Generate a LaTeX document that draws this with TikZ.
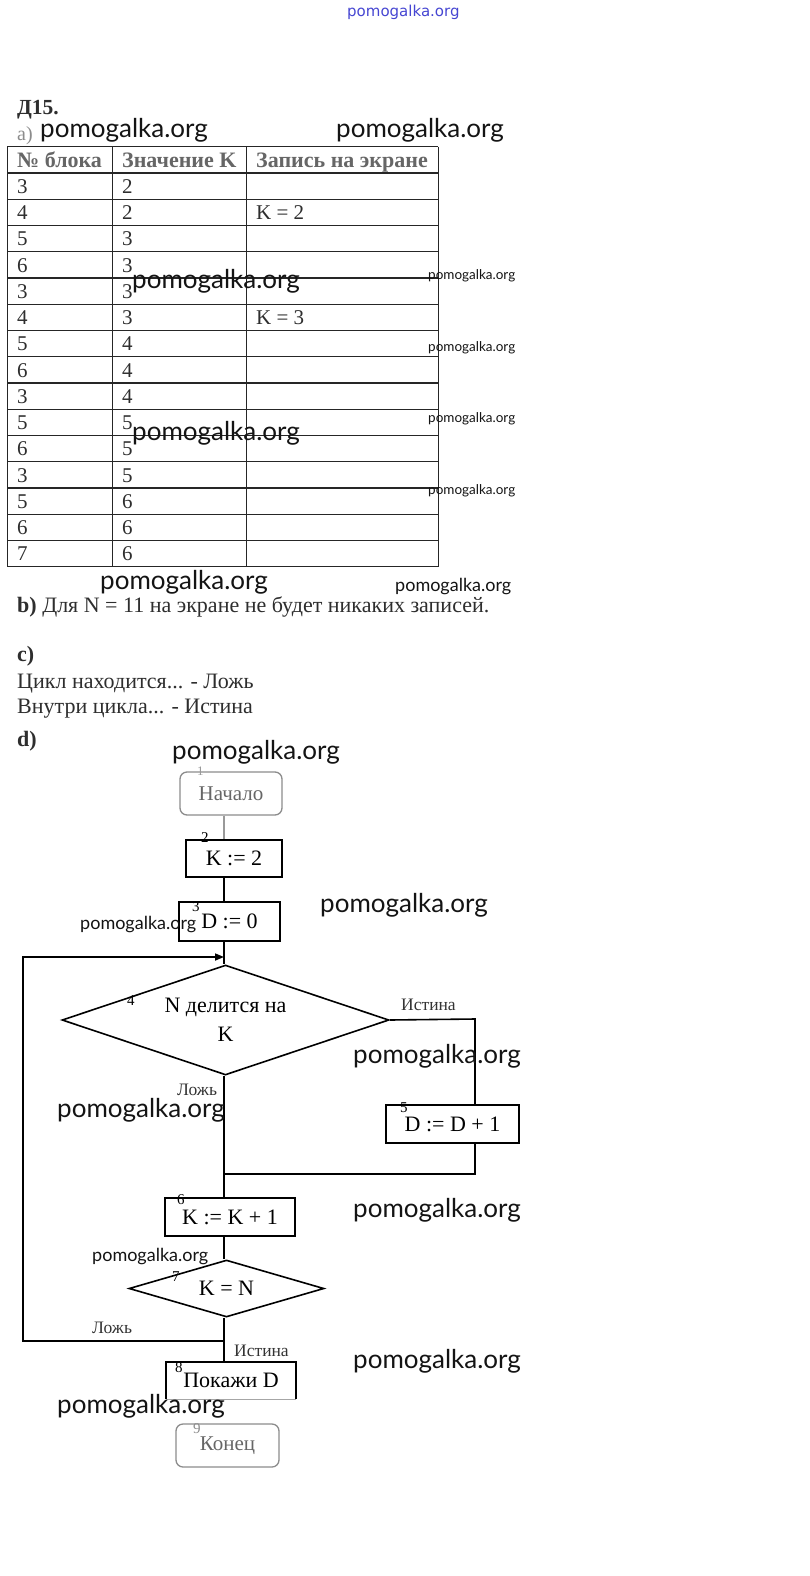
\documentclass[tikz,border=0pt]{standalone}
\usepackage{fontspec}
\setmainfont{Liberation Serif}
\newfontfamily\wmfont{Lato}
\newfontfamily\wmblue{DejaVu Sans}
\usetikzlibrary{shapes.geometric,arrows.meta}
\begin{document}
\begin{tikzpicture}[x=1pt,y=-1pt,
  txt/.style={anchor=base west,inner sep=0,font=\fontsize{22}{26}\selectfont,text=black!82},
  cellt/.style={anchor=base west,inner sep=0,font=\fontsize{21}{25}\selectfont,text=black!82},
  hdr/.style={anchor=base west,inner sep=0,font=\fontsize{22}{26}\selectfont\bfseries,text=black!60},
  grid/.style={line width=1.2pt,black!85},
  wmL/.style={anchor=base west,inner sep=0,font=\wmfont\fontsize{26}{30}\selectfont,text=black!92},
  wmS/.style={anchor=base west,inner sep=0,font=\wmfont\fontsize{13.5}{16}\selectfont,text=black!92},
  wmM/.style={anchor=base west,inner sep=0,font=\wmfont\fontsize{18}{21}\selectfont,text=black!92},
  flow/.style={line width=1.6pt,black},
  box/.style={draw,line width=1.6pt,inner sep=0,font=\fontsize{22}{26}\selectfont},
  term/.style={draw=black!45,line width=1.3pt,rounded corners=7pt,inner sep=0,font=\fontsize{21}{25}\selectfont,text=black!60},
  dia/.style={diamond,draw,line width=1.6pt,inner sep=0,shape aspect=3,font=\fontsize{22}{29}\selectfont,align=center},
  num/.style={anchor=base west,inner sep=0,font=\fontsize{15}{18}\selectfont},
  lab/.style={anchor=base west,inner sep=0,font=\fontsize{17.5}{20}\selectfont,text=black!80}
]
\useasboundingbox[fill=white] (0,0) rectangle (809,1576);

% ---------- header text ----------
\node[txt,font=\fontsize{21.5}{25}\selectfont\bfseries] (title) at (17,115) {Д15.};
\node[txt,text=black!45,font=\fontsize{20}{24}\selectfont] (ta) at (17,140) {а)};

% ---------- table ----------
\foreach \i in {0,...,16} \draw[grid] (7.3,146.7+26.25*\i) -- (438.3,146.7+26.25*\i);
\foreach \x in {7.3,112.7,246.7,438.3} \draw[grid] (\x,146.7) -- (\x,566.7);
\node[hdr] (h1) at (17,167) {№ блока};
\node[hdr] (h2) at (122,167) {Значение K};
\node[hdr] (h3) at (256,167) {Запись на экране};
\foreach \i/\a/\b/\c in {1/3/2/,2/4/2/K = 2,3/5/3/,4/6/3/,5/3/3/,6/4/3/K = 3,7/5/4/,8/6/4/,9/3/4/,10/5/5/,11/6/5/,12/3/5/,13/5/6/,14/6/6/,15/7/6/}{
  \node[cellt] (ra\i) at (17,146.7+26.25*\i+20.5) {\a};
  \node[cellt] (rb\i) at (122,146.7+26.25*\i+20.5) {\b};
  \node[cellt] (rc\i) at (256,146.7+26.25*\i+20.5) {\c};
}

% ---------- b, c, d ----------
\node[txt] (pb) at (17,612) {\textbf{b)} Для N = 11 на экране не будет никаких записей.};
\node[txt,font=\fontsize{22}{26}\selectfont\bfseries] (pc) at (17,661) {c)};
\node[txt] (pc1) at (17,688) {Цикл находится... - Ложь};
\node[txt] (pc2) at (17,713) {Внутри цикла... - Истина};
\node[txt,font=\fontsize{22}{26}\selectfont\bfseries] (pd) at (17,746) {d)};

% ---------- flowchart ----------
\coordinate (ax) at (224,0);
\node[term,minimum width=102pt,minimum height=43pt] (st) at (231,793.5) {Начало};
\node[box,minimum width=96pt,minimum height=37pt] (k2) at (234,858.5) {K := 2};
\node[box,minimum width=101pt,minimum height=39pt] (d0) at (229.5,921.5) {D := 0};
\node[dia,minimum width=327pt,minimum height=110pt] (d4) at (225.5,1020) {N делится на\\K};
\node[box,minimum width=133pt,minimum height=38pt] (b5) at (452.5,1124) {D := D + 1};
\node[box,minimum width=130pt,minimum height=38pt] (k6) at (230,1217) {K := K + 1};
\node[dia,minimum width=195pt,minimum height=57pt] (d7) at (226.5,1288.5) {K = N};
\node[inner sep=0,minimum width=130pt,minimum height=37pt,font=\fontsize{22}{26}\selectfont] (p8) at (231,1380.5) {Покажи D};
\node[term,minimum width=103pt,minimum height=43pt] (en) at (227.5,1445.5) {Конец};

\draw[flow] (p8.south west) -- (p8.north west) -- (p8.north east) -- (p8.south east);
\draw[line width=1.3pt,black!35] (p8.south west) -- (p8.south east);

\coordinate (r1) at (475,1019);
\coordinate (r2) at (475,1174);
\coordinate (jA) at (224,1341);
\coordinate (lc1) at (23,1341);
\coordinate (lc2) at (23,957);
\coordinate (jB) at (224,957);

\draw[line width=1.3pt,black!40] (st.south -| ax) -- (k2.north -| ax);
\draw[flow] (k2.south -| ax) -- (d0.north -| ax);
\draw[flow] (d0.south -| ax) -- (d4.north -| ax);
\draw[flow] (d4.south -| ax) -- (k6.north -| ax);
\draw[flow] (d4.east) -- (r1) -- (b5.north -| r1);
\draw[flow] (b5.south -| r1) -- (r2) -- (r2 -| ax);
\draw[flow] (k6.south -| ax) -- (d7.north -| ax);
\draw[flow] (d7.south -| ax) -- (p8.north -| ax);
\draw[flow,-{Triangle[length=9pt,width=7pt]}] (jA) -- (lc1) -- (lc2) -- (jB);

% labels
\node[lab] (l1) at (401,1010) {Истина};
\node[lab] (l2) at (177,1095) {Ложь};
\node[lab] (l3) at (92,1333) {Ложь};
\node[lab] (l4) at (234,1356) {Истина};

% block numbers
\node[num,text=black!40,font=\fontsize{13}{15}\selectfont] (n1) at (197,775) {1};
\node[num] (n2) at (201,842) {2};
\node[num] (n3) at (192,911) {3};
\node[num] (n4) at (127,1005) {4};
\node[num] (n5) at (400,1112) {5};
\node[num] (n6) at (177,1204) {6};
\node[num] (n7) at (172,1281) {7};
\node[num] (n8) at (175,1372) {8};
\node[num,text=black!45] (n9) at (193,1433) {9};

% ---------- watermarks ----------
\node[anchor=base west,inner sep=0,font=\wmblue\fontsize{15}{18}\selectfont,text={rgb,255:red,70;green,70;blue,210}] (wb) at (347,17) {pomogalka.org};
\node[wmL] (w1) at (40,137) {pomogalka.org};
\node[wmL] (w2) at (336,137) {pomogalka.org};
\node[wmL] (w3) at (132,288) {pomogalka.org};
\node[wmL] (w4) at (132,440) {pomogalka.org};
\node[wmL] (w5) at (100,589) {pomogalka.org};
\node[wmL] (w6) at (172,759) {pomogalka.org};
\node[wmL] (w7) at (320,912) {pomogalka.org};
\node[wmL] (w8) at (353,1063) {pomogalka.org};
\node[wmL] (w9) at (57,1117) {pomogalka.org};
\node[wmL] (w10) at (353,1217) {pomogalka.org};
\node[wmL] (w11) at (353,1368) {pomogalka.org};
\node[wmL] (w12) at (57,1413) {pomogalka.org};
\node[wmS] (s1) at (428,279) {pomogalka.org};
\node[wmS] (s2) at (428,351) {pomogalka.org};
\node[wmS] (s3) at (428,422) {pomogalka.org};
\node[wmS] (s4) at (428,494) {pomogalka.org};
\node[wmM] (m1) at (395,591) {pomogalka.org};
\node[wmM] (m2) at (80,929) {pomogalka.org};
\node[wmM] (m3) at (92,1261) {pomogalka.org};
\end{tikzpicture}
\end{document}
